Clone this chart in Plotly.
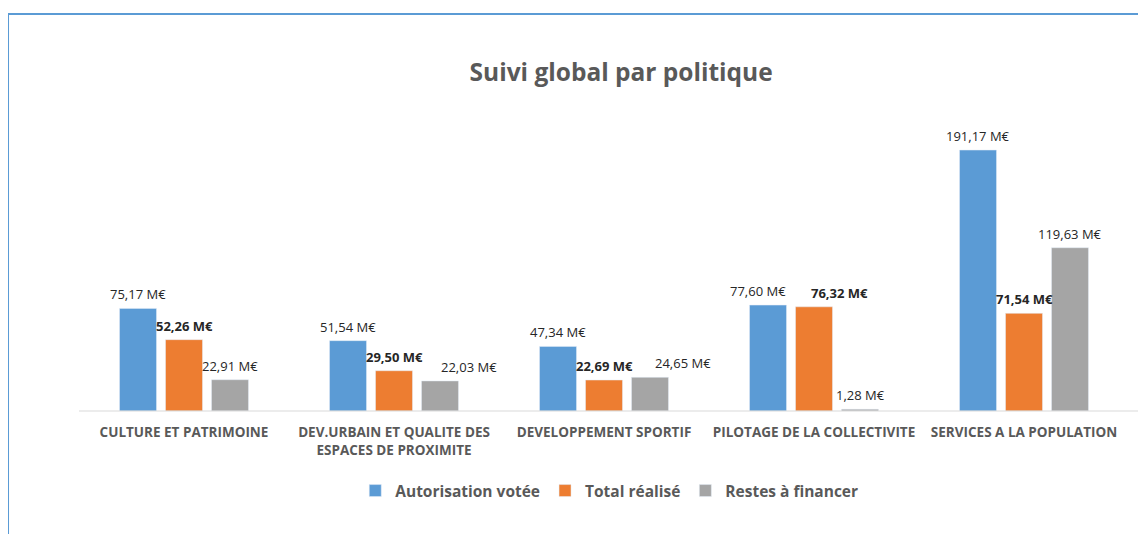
import plotly.graph_objects as go

# Données du graphique
categories = [
    "CULTURE ET PATRIMOINE",
    "DEV.URBAIN ET QUALITE DES<br>ESPACES DE PROXIMITE",
    "DEVELOPPEMENT SPORTIF",
    "PILOTAGE DE LA COLLECTIVITE",
    "SERVICES A LA POPULATION",
]
autorisation_votee = [75.17, 51.54, 47.34, 77.60, 191.17]
total_realise = [52.26, 29.50, 22.69, 76.32, 71.54]
restes_a_financer = [22.91, 22.03, 24.65, 1.28, 119.63]

series = [
    ("Autorisation votée", autorisation_votee, "#5B9BD5", False),
    ("Total réalisé", total_realise, "#ED7D31", True),
    ("Restes à financer", restes_a_financer, "#A5A5A5", False),
]

# décalage (px) des étiquettes déplacées à la main dans l'original
nudges = {(1, 2): 29, (2, 2): 33, (3, 0): -10, (3, 1): 25}
slot = 46  # largeur d'un emplacement de barre en px


def label(v, bold):
    txt = f"{v:.2f}".replace(".", ",") + " M€"
    return f"<b>{txt}</b>" if bold else txt


fig = go.Figure()

for s, (name, values, color, bold) in enumerate(series):
    fig.add_trace(go.Bar(
        x=categories,
        y=values,
        name=f"<b>{name}</b>",
        marker_color=color,
        cliponaxis=False,
    ))
    for i, v in enumerate(values):
        fig.add_annotation(
            x=categories[i], y=v, text=label(v, bold), showarrow=False,
            xshift=(s - 1) * slot + nudges.get((i, s), 0), yshift=14,
            yanchor="middle",
            font=dict(family="Open Sans", size=13, color="#262626"),
        )

# Ligne de base et cadre bleu
fig.add_shape(type="line", xref="paper", yref="paper",
              x0=0, x1=1.03, y0=0, y1=0,
              line=dict(color="#D9D9D9", width=1))
fig.add_shape(type="rect", xref="paper", yref="paper",
              x0=-0.0676, x1=1.06, y0=-0.6, y1=1.454,
              line=dict(color="#5B9BD5", width=2), layer="below")

fig.update_layout(
    width=1146,
    height=534,
    margin=dict(l=71, r=25, t=130, b=131),
    title=dict(text="<b>Suivi global par politique</b>", x=0.535, xanchor="center",
               y=0.880, yanchor="middle",
               font=dict(family="Open Sans", size=24.5, color="#595959")),
    barmode="group",
    bargap=0.343,
    bargroupgap=0.196,
    plot_bgcolor="white",
    paper_bgcolor="white",
    showlegend=True,
    legend=dict(orientation="h", x=0.505, xanchor="center", y=-0.293, yanchor="middle",
                font=dict(family="Open Sans", size=15.5, color="#595959"),
                traceorder="normal"),
    xaxis=dict(showline=False, showgrid=False, ticks="outside", ticklen=9,
               tickcolor="rgba(0,0,0,0)",
               tickfont=dict(family="Open Sans", size=13.5, color="#595959")),
    yaxis=dict(range=[0, 200], visible=False, showgrid=False, zeroline=False),
)

fig.update_xaxes(tickprefix="<b>", ticksuffix="</b>")

fig.write_html("out.html")
